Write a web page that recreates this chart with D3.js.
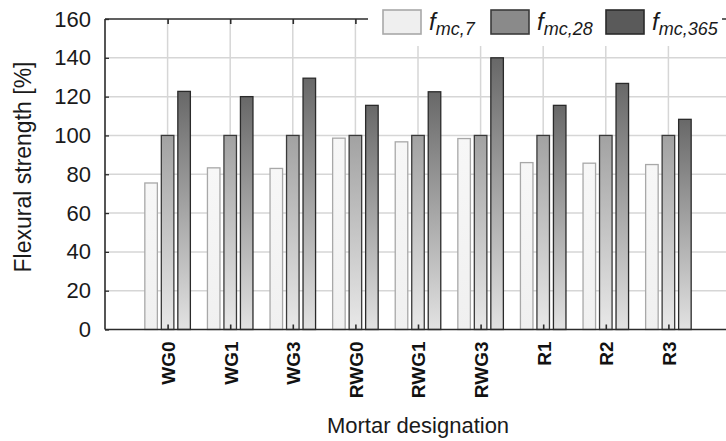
<!DOCTYPE html>
<html><head><meta charset="utf-8">
<script src="https://cdn.jsdelivr.net/npm/d3@7"></script>
<style>body{margin:0;background:#fff}svg{display:block}text{font-family:"Liberation Sans",Arial,sans-serif}</style>
</head><body>
<script>
const categories = ["WG0","WG1","WG3","RWG0","RWG1","RWG3","R1","R2","R3"];
const fmc7   = [75.5, 83.3, 83.0, 98.6, 96.7, 98.4, 86.0, 85.7, 85.0];
const fmc28  = [100, 100, 100, 100, 100, 100, 100, 100, 100];
const fmc365 = [122.7, 120.0, 129.5, 115.5, 122.5, 140.0, 115.5, 126.8, 108.3];
const seriesKeys = ["f7","f28","f365"];
const seriesSub = ["mc,7","mc,28","mc,365"];
const yTicks = [0,20,40,60,80,100,120,140,160];
const yTitle = "Flexural strength [%]";
const xTitle = "Mortar designation";

const W = 726, H = 441;
const pL = 105, pR = 731, pT = 19, pB = 329.5;
const svg = d3.select("body").append("svg").attr("width", W).attr("height", H);

const x = d3.scalePoint().domain(categories).range([pL, pR]).padding(1);
const sub = d3.scaleBand().domain(seriesKeys).range([-24.75, 24.75]).paddingInner(0.24).paddingOuter(0.12);
const y = d3.scaleLinear().domain([0,160]).range([pB, pT]);

const defs = svg.append("defs");
const grads = [
  {id:"g7",  top:"#f7f7f7", bot:"#f0f0f0", stroke:"#a8a8a8", sw:"#efefef"},
  {id:"g28", top:"#a2a2a2", bot:"#e8e8e8", stroke:"#3a3a3a", sw:"#8a8a8a"},
  {id:"g365",top:"#686868", bot:"#e2e2e2", stroke:"#2a2a2a", sw:"#5a5a5a"}
];
grads.forEach(g => {
  const lg = defs.append("linearGradient").attr("id", g.id).attr("x1",0).attr("y1",0).attr("x2",0).attr("y2",1);
  lg.append("stop").attr("offset","0%").attr("stop-color", g.top);
  lg.append("stop").attr("offset","100%").attr("stop-color", g.bot);
});

// gridlines
svg.append("g").selectAll("line").data(yTicks.filter(d=>d>0 && d<160)).join("line")
  .attr("x1", pL).attr("x2", pR).attr("y1", d=>y(d)).attr("y2", d=>y(d))
  .attr("stroke", "#d6d6d6").attr("stroke-width", 1.5);
svg.append("g").selectAll("line").data(categories).join("line")
  .attr("x1", d=>x(d)).attr("x2", d=>x(d)).attr("y1", pT).attr("y2", pB)
  .attr("stroke", "#d6d6d6").attr("stroke-width", 1.5);

// bars
const data = [fmc7, fmc28, fmc365];
seriesKeys.forEach((k, si) => {
  svg.append("g").selectAll("rect").data(categories).join("rect")
    .attr("x", d => x(d) + sub(k))
    .attr("width", sub.bandwidth())
    .attr("y", (d,i) => y(data[si][i]))
    .attr("height", (d,i) => pB - y(data[si][i]))
    .attr("fill", `url(#${grads[si].id})`)
    .attr("stroke", grads[si].stroke).attr("stroke-width", 1.3);
});

// axes frame
const axisCol = "#2b2b2b";
svg.append("line").attr("x1", pL).attr("x2", pR).attr("y1", pB).attr("y2", pB).attr("stroke", axisCol).attr("stroke-width", 1.6);
svg.append("line").attr("x1", pL).attr("x2", pR).attr("y1", pT).attr("y2", pT).attr("stroke", axisCol).attr("stroke-width", 1.6);
svg.append("line").attr("x1", pL).attr("x2", pL).attr("y1", pT).attr("y2", pB).attr("stroke", axisCol).attr("stroke-width", 1.6);

// y axis
const yAxis = d3.axisLeft(y).tickValues(yTicks).tickSize(-4).tickPadding(14);
const gy = svg.append("g").attr("transform", `translate(${pL},0)`).call(yAxis);
gy.select(".domain").remove();
gy.selectAll(".tick line").attr("stroke", axisCol).attr("stroke-width", 1.3);
gy.selectAll(".tick text").attr("font-size", 22).attr("fill", "#1a1a1a").attr("font-family", "Liberation Sans, Arial, sans-serif");

// x axis
const xAxis = d3.axisBottom(x).tickSize(-5).tickPadding(0);
const gx = svg.append("g").attr("transform", `translate(0,${pB})`).call(xAxis);
gx.select(".domain").remove();
gx.selectAll(".tick line").attr("stroke", axisCol).attr("stroke-width", 1.6);
gx.selectAll(".tick text")
  .attr("font-size", 19).attr("font-weight", "bold").attr("fill", "#111")
  .attr("font-family", "Liberation Sans, Arial, sans-serif")
  .attr("text-anchor", "end")
  .attr("transform", "rotate(-90)")
  .attr("x", -12).attr("y", 0).attr("dy", "0.36em");

// top ticks
const gt = svg.append("g").attr("transform", `translate(0,${pT})`).call(d3.axisTop(x).tickSize(-5).tickFormat(""));
gt.select(".domain").remove();
gt.selectAll(".tick line").attr("stroke", axisCol).attr("stroke-width", 1.6);

// legend background
svg.append("rect").attr("x", 368).attr("y", 0).attr("width", 354).attr("height", 46).attr("fill", "#fff");
const legX = [383, 491, 606];
const leg = svg.append("g");
seriesKeys.forEach((k, i) => {
  leg.append("rect").attr("x", legX[i]).attr("y", 10).attr("width", 38).attr("height", 24)
    .attr("fill", grads[i].sw).attr("stroke", grads[i].stroke).attr("stroke-width", 1.6);
  const t = leg.append("text").attr("x", legX[i] + 46).attr("y", 30)
    .attr("font-size", 24).attr("font-style", "italic").attr("fill", "#1a1a1a");
  t.append("tspan").text("f");
  t.append("tspan").attr("font-size", 18).attr("dy", 5).attr("dx", 0).text(seriesSub[i]);
});

// titles
svg.append("text").attr("transform", "translate(31,167) rotate(-90)")
  .attr("text-anchor", "middle").attr("font-size", 23).attr("fill", "#1a1a1a").text(yTitle);
svg.append("text").attr("x", 418).attr("y", 433)
  .attr("text-anchor", "middle").attr("font-size", 22).attr("fill", "#1a1a1a").text(xTitle);
</script>
</body></html>
